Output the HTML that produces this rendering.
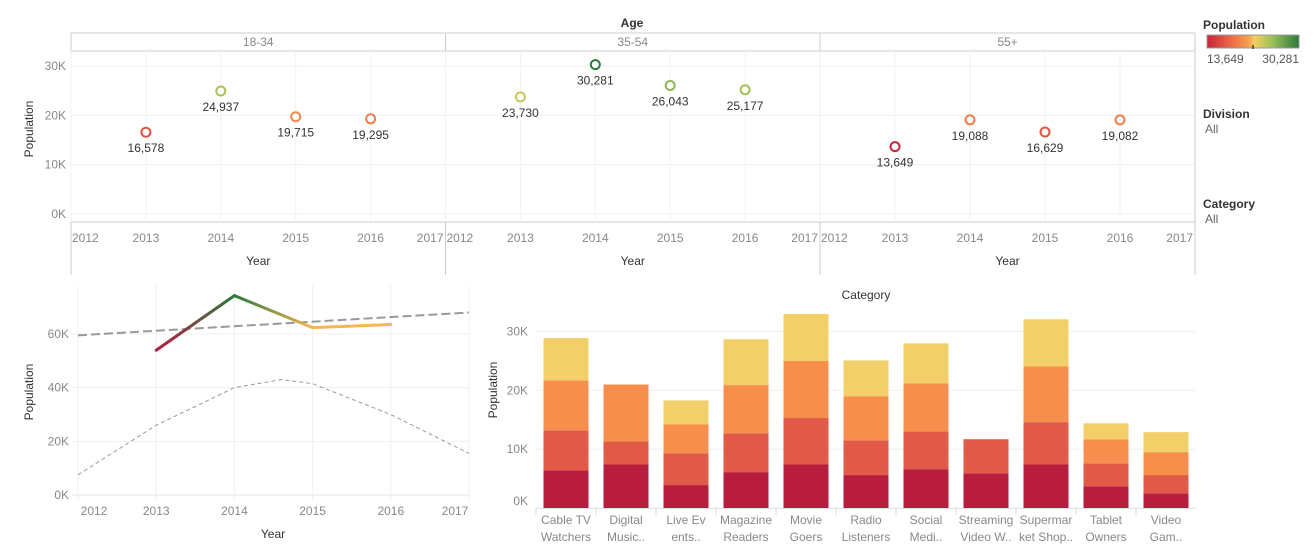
<!DOCTYPE html>
<html><head><meta charset="utf-8"><style>
html,body{margin:0;padding:0;background:#fff;}
svg{display:block;font-family:"Liberation Sans",sans-serif;}
</style></head><body>
<svg id="c" width="1315" height="559">
<defs>
<linearGradient id="legendGrad" x1="0" x2="1" y1="0" y2="0">
<stop offset="0" stop-color="#c8243a"/><stop offset="0.28" stop-color="#ee6f47"/><stop offset="0.45" stop-color="#f5a04e"/><stop offset="0.52" stop-color="#f3cd62"/><stop offset="0.7" stop-color="#9fc15a"/><stop offset="1" stop-color="#2a7a3c"/>
</linearGradient>
</defs>
<g id="top"></g><g id="line"></g><g id="bars"></g>
<g font-size="12">
<text x="1203" y="29" fill="#333" font-weight="bold">Population</text>
<rect x="1207" y="35" width="92" height="13" fill="url(#legendGrad)" stroke="#999"/>
<line x1="1253" y1="45" x2="1253" y2="49" stroke="#000"/>
<text x="1207" y="63" fill="#555">13,649</text>
<text x="1299" y="63" fill="#555" text-anchor="end">30,281</text>
<text x="1203" y="118" fill="#333" font-weight="bold">Division</text>
<text x="1205" y="133" fill="#666">All</text>
<text x="1203" y="208" fill="#333" font-weight="bold">Category</text>
<text x="1205" y="223" fill="#666">All</text>
</g>
</svg>
<script>
const NS="http://www.w3.org/2000/svg";
// ---- scatter data
const ages=["18-34","35-54","55+"];
const scatterYears=[2013,2014,2015,2016];
const pop1834=[16578,24937,19715,19295];
const pop3554=[23730,30281,26043,25177];
const pop55=[13649,19088,16629,19082];
const yearTicks=[2012,2013,2014,2015,2016,2017];
const scatterYTicks=[0,10000,20000,30000];
// ---- line data
const lineYears=[2013,2014,2015,2016];
const lineTotals=[53957,74306,62387,63554];
const trendYears=[2012,2017];
const trendVals=[59500,68000];
const curveYears=[2012,2013,2014,2014.6,2015,2016,2017];
const curveVals=[7500,26000,40000,43000,41500,30000,15500];
const lineYTicks=[0,20000,40000,60000];
// ---- bar data
const categories=[["Cable TV","Watchers"],["Digital","Music.."],["Live Ev","ents.."],["Magazine","Readers"],["Movie","Goers"],["Radio","Listeners"],["Social","Medi.."],["Streaming","Video W.."],["Supermar","ket Shop.."],["Tablet","Owners"],["Video","Gam.."]];
const seg1=[6400,7400,3900,6100,7400,5600,6600,5900,7400,3700,2500];
const seg2=[6800,3900,5400,6600,7900,5900,6400,5800,7200,3900,3100];
const seg3=[8500,9700,4900,8200,9700,7500,8200,0,9500,4100,3900];
const seg4=[7200,0,4100,7800,8000,6100,6800,0,8000,2700,3400];
const barYTicks=[0,10000,20000,30000];

function el(tag,attrs,parent,text){const e=document.createElementNS(NS,tag);for(const k in attrs)e.setAttribute(k,attrs[k]);if(text!==undefined)e.textContent=text;parent.appendChild(e);return e;}
const fmtK=v=>(v/1000)+"K";
function popColor(v){
  const t=(v-13649)/(30281-13649);
  const stops=[[0,[200,36,58]],[0.28,[238,111,71]],[0.45,[245,160,78]],[0.52,[243,205,98]],[0.7,[159,193,90]],[1,[42,122,60]]];
  for(let i=1;i<stops.length;i++){if(t<=stops[i][0]){const a=stops[i-1],b=stops[i];const f=(t-a[0])/(b[0]-a[0]);const c=a[1].map((x,j)=>Math.round(x+(b[1][j]-x)*f));return `rgb(${c})`;}}
  return "rgb(42,122,60)";
}
// ---- top scatter
const topG=document.getElementById('top');
const panels=[71,445.5,820,1195];
const sy=v=>214-v*(148/30000);
el('text',{x:632,y:27,'text-anchor':'middle','font-size':12,fill:'#333','font-weight':'bold',},topG,"Age");
el('line',{x1:71,y1:33,x2:1195,y2:33,stroke:'#ccc'},topG);
el('line',{x1:71,y1:51,x2:1195,y2:51,stroke:'#ccc'},topG);
el('line',{x1:71,y1:222,x2:1195,y2:222,stroke:'#ccc'},topG);
scatterYTicks.forEach(t=>{
  el('line',{x1:71,x2:1195,y1:sy(t),y2:sy(t),stroke:'#efefef'},topG);
  const tx=el('text',{x:66,y:sy(t)+4,'text-anchor':'end','font-size':12,fill:'#888'},topG,fmtK(t));
  
  
});
const yl=el('text',{x:0,y:0,transform:'translate(33,129) rotate(-90)','text-anchor':'middle','font-size':12,fill:'#333'},topG,"Population");


const series=[pop1834,pop3554,pop55];
ages.forEach((a,p)=>{
  const x0=panels[p],x1=panels[p+1],w=(x1-x0)/5;
  const sx=y=>x0+(y-2012)*w;
  el('line',{x1:x0,x2:x0,y1:33,y2:275,stroke:'#ccc'},topG);
  const h=el('text',{x:(x0+x1)/2,y:46,'text-anchor':'middle','font-size':12,fill:'#888'},topG,a);
  
  
  yearTicks.forEach((yr,i)=>{
    el('line',{x1:sx(yr),x2:sx(yr),y1:51,y2:222,stroke:'#f2f2f2'},topG);
    let anchor='middle',xx=sx(yr);
    if(i===0){anchor='start';xx+=1;} if(i===yearTicks.length-1){anchor='end';xx-=2;}
    const t=el('text',{x:xx,y:242,'text-anchor':anchor,'font-size':12,fill:'#888'},topG,yr);
    
    
  });
  const xt=el('text',{x:(x0+x1)/2,y:265,'text-anchor':'middle','font-size':12,fill:'#333'},topG,"Year");
  
  
  series[p].forEach((v,i)=>{
    const cx=sx(scatterYears[i]),cy=sy(v);
    const c=el('circle',{cx:cx,cy:cy,r:4.5,fill:'#fff',stroke:popColor(v),'stroke-width':2},topG);
    
    
    const l=el('text',{x:cx,y:cy+20,'text-anchor':'middle','font-size':12,fill:'#333'},topG,v.toLocaleString('en-US'));
    
    
  });
});
el('line',{x1:1195,x2:1195,y1:33,y2:275,stroke:'#ccc'},topG);
// ---- line chart
const lg=document.getElementById('line');
const lx=y=>78+(y-2012)*78.2;
const ly=v=>495-v*(161/60000);
lineYTicks.forEach(t=>{
  el('line',{x1:72,x2:470,y1:ly(t),y2:ly(t),stroke:t===0?'#e4e4e4':'#efefef'},lg);
  const tx=el('text',{x:69,y:ly(t)+4,'text-anchor':'end','font-size':12,fill:'#888'},lg,fmtK(t));
  
  
});
yearTicks.forEach((yr,i)=>{
  el('line',{x1:lx(yr),x2:lx(yr),y1:285,y2:500,stroke:'#f0f0f0'},lg);
  const t=el('text',{x:lx(yr)+(i===0?16:i===5?-14:0),y:515,'text-anchor':'middle','font-size':12,fill:'#888'},lg,yr);
  
  
});
const lyt=el('text',{x:0,y:0,transform:'translate(33,392) rotate(-90)','text-anchor':'middle','font-size':12,fill:'#333'},lg,"Population");


const lxt=el('text',{x:273,y:538,'text-anchor':'middle','font-size':12,fill:'#333'},lg,"Year");


const tr=el('path',{d:`M${lx(trendYears[0])},${ly(trendVals[0])}L${lx(trendYears[1])},${ly(trendVals[1])}`,stroke:'#999','stroke-width':2,'stroke-dasharray':'9,4',fill:'none'},lg);


let cd='';curveYears.forEach((y,i)=>{cd+=(i?'L':'M')+lx(y)+','+ly(curveVals[i]);});
const cv=el('path',{d:cd,stroke:'#999','stroke-width':1,'stroke-dasharray':'4,3',fill:'none'},lg);


const defsEl=document.querySelector('defs');
for(let i=0;i<lineYears.length-1;i++){
  const x1=lx(lineYears[i]),y1=ly(lineTotals[i]),x2=lx(lineYears[i+1]),y2=ly(lineTotals[i+1]);
  const gid='lg'+i;
  const g=el('linearGradient',{id:gid,gradientUnits:'userSpaceOnUse',x1:x1,y1:y1,x2:x2,y2:y2},defsEl);
  const c1=i===0?'#b81d3e':i===1?'#2a7a3c':'#f9b451';
  const c2=i===0?'#2a7a3c':'#f9b451';
  el('stop',{offset:0,'stop-color':c1},g);el('stop',{offset:1,'stop-color':c2},g);
  const s=el('path',{d:`M${x1},${y1}L${x2},${y2}`,stroke:`url(#${gid})`,'stroke-width':3,fill:'none','stroke-linecap':'round'},lg);
  
  
}
// ---- bar chart
const bg=document.getElementById('bars');
const by=v=>508-v*(58.8/10000);
const band=60,bx0=536,bw=45;
const segCols=['#b81d3e','#e05a47','#f78f4c','#f2cf68'];
const segs=[seg1,seg2,seg3,seg4];
const ct=el('text',{x:866,y:299,'text-anchor':'middle','font-size':12,fill:'#333'},bg,"Category");


barYTicks.forEach(t=>{
  el('line',{x1:536,x2:1196,y1:by(t),y2:by(t),stroke:'#efefef'},bg);
  const tx=el('text',{x:528,y:by(t)+(t===0?-3:4),'text-anchor':'end','font-size':12,fill:'#888'},bg,fmtK(t));
  
  
});
el('line',{x1:536,x2:1196,y1:508.5,y2:508.5,stroke:'#e4e4e4'},bg);
const byt=el('text',{x:0,y:0,transform:'translate(497,390) rotate(-90)','text-anchor':'middle','font-size':12,fill:'#333'},bg,"Population");


categories.forEach((cat,i)=>{
  const cx=bx0+band*(i+0.5);
  let cum=0;
  segs.forEach((s,k)=>{
    const v=s[i];if(!v)return;
    const r=el('rect',{x:cx-bw/2,y:by(cum+v),width:bw,height:by(cum)-by(cum+v),fill:segCols[k]},bg);
    
    
    cum+=v;
  });
  el('line',{x1:bx0+band*i,x2:bx0+band*i,y1:508,y2:515,stroke:'#ddd'},bg);
  cat.forEach((ln,j)=>{
    const t=el('text',{x:cx,y:524+j*17,'text-anchor':'middle','font-size':12,fill:'#888'},bg,ln);
    
    
  });
});
</script>
</body></html>
